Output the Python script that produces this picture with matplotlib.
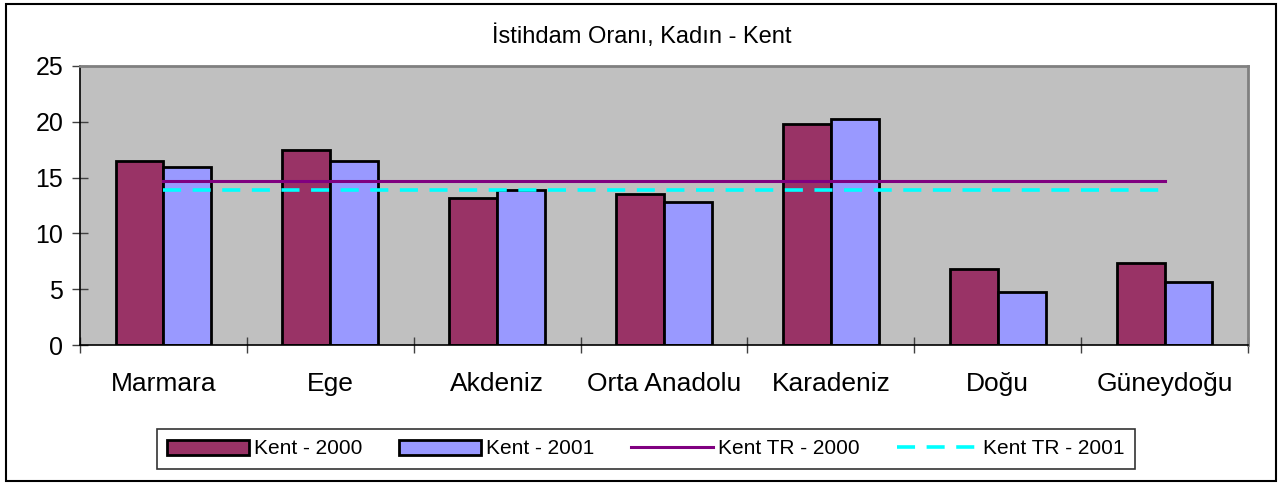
import numpy as np
import matplotlib.pyplot as plt
from matplotlib.patches import Patch, Rectangle
from matplotlib.lines import Line2D

plt.rcParams['font.family'] = ['Liberation Sans', 'DejaVu Sans']

regions = ['Marmara', 'Ege', 'Akdeniz', 'Orta Anadolu', 'Karadeniz', 'Doğu', 'Güneydoğu']
kent_2000 = [16.5, 17.5, 13.2, 13.5, 19.8, 6.8, 7.4]
kent_2001 = [15.9, 16.5, 13.9, 12.8, 20.2, 4.8, 5.65]
tr_2000 = 14.7
tr_2001 = 13.9
yticks = [0, 5, 10, 15, 20, 25]

fig = plt.figure(figsize=(12.84, 4.84), dpi=100)
ax = fig.add_axes([80/1284, 1-345.3/484, 1168/1284, 279.6/484])
ax.set_facecolor('#C0C0C0')

x = np.arange(len(regions))
w = 0.287
ax.bar(x - w/2, kent_2000, w, color='#993366', edgecolor='black', linewidth=2, zorder=2)
ax.bar(x + w/2, kent_2001, w, color='#9999FF', edgecolor='black', linewidth=2, zorder=2)
ax.plot(x, [tr_2000]*len(x), color='#800080', lw=2.2, zorder=3)
ax.plot(x, [tr_2001]*len(x), color='#00FFFF', lw=2.6, dashes=(5, 3.2), zorder=3)

ax.set_xlim(-0.5, len(regions) - 0.5)
ax.set_ylim(0, 25)
ax.set_yticks(yticks)
ax.set_xticks(x)
ax.set_xticklabels(regions)
ax.set_xticks(np.arange(-0.5, len(regions)), minor=True)
ax.tick_params(axis='x', which='major', length=0, pad=19, labelsize=19)
ax.tick_params(axis='x', which='minor', direction='inout', length=12, width=1, color='#404040')
ax.tick_params(axis='y', direction='inout', length=12, width=1, pad=6, labelsize=18, color='#404040')

for s in ['left', 'bottom']:
    ax.spines[s].set_color('black')
    ax.spines[s].set_linewidth(1.2)
for s in ['top', 'right']:
    ax.spines[s].set_color('#808080')
    ax.spines[s].set_linewidth(2)

fig.text(0.5, 1-36/484, 'İstihdam Oranı, Kadın - Kent', ha='center', va='center', fontsize=17)

handles = [
    Patch(facecolor='#993366', edgecolor='black', linewidth=2, label='Kent - 2000'),
    Patch(facecolor='#9999FF', edgecolor='black', linewidth=2, label='Kent - 2001'),
    Line2D([], [], color='#800080', lw=2.2, label='Kent TR - 2000'),
    Line2D([], [], color='#00FFFF', lw=2.6, dashes=(5, 3.2), label='Kent TR - 2001'),
]
leg = fig.legend(handles=handles, loc='center', ncol=4, mode='expand',
                 bbox_to_anchor=(157/1284, 1-470/484, 978/1284, 42/484),
                 fontsize=15, frameon=True, fancybox=False, edgecolor='black',
                 handlelength=3.9, handletextpad=0.25, borderaxespad=0, borderpad=0.5)
leg.get_frame().set_linewidth(1.2)

fig.patches.append(Rectangle((6/1284, 3/484), 1270/1284, 477/484, transform=fig.transFigure,
                             fill=False, edgecolor='black', linewidth=1.5))

fig.savefig('out.png', dpi=100)
